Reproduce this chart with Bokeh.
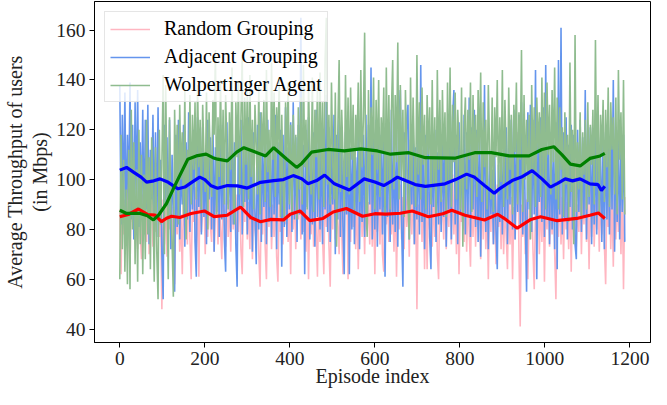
from bokeh.plotting import figure
from bokeh.models import Range1d, FixedTicker, Legend, LegendItem
from bokeh.embed import file_html
from bokeh.resources import INLINE

# ---------------- data ----------------
# raw throughput, one value every 3 episodes (0, 3, 6, ...)
random_raw = [
    88, 62, 96, 78, 92, 74, 99, 80, 64, 95, 83, 97, 76, 90, 72, 100, 79, 68, 94, 81,
    93, 75, 98, 70, 87, 96, 73, 91, 79, 95, 109, 77, 88, 48, 92, 74, 97, 69, 94, 80,
    96, 72, 89, 58, 93, 78, 99, 71, 86, 62, 95, 80, 91, 74, 98, 76, 60, 92, 83, 97,
    73, 94, 61, 100, 79, 88, 96, 70, 93, 77, 99, 82, 75, 95, 71, 90, 98, 74, 92, 80,
    68, 96, 84, 73, 99, 77, 92, 71, 97, 80, 102, 75, 94, 79, 98, 72, 62, 95, 83, 100,
    76, 91, 72, 97, 68, 93, 80, 75, 96, 70, 57, 92, 78, 99, 73, 60, 94, 81, 97, 72,
    90, 77, 95, 69, 59, 92, 79, 98, 74, 91, 82, 96, 75, 93, 62, 99, 80, 94, 72, 100,
    84, 97, 76, 102, 79, 93, 71, 95, 60, 90, 78, 98, 73, 94, 80, 61, 96, 75, 92, 77,
    62, 99, 81, 95, 74, 57, 93, 80, 101, 76, 97, 83, 70, 96, 79, 62, 94, 86, 99, 60,
    92, 75, 100, 81, 96, 72, 94, 64, 89, 98, 77, 93, 70, 97, 80, 91, 74, 99, 73, 95,
    62, 92, 79, 97, 74, 95, 70, 63, 98, 82, 93, 75, 100, 78, 94, 71, 96, 61, 90, 80,
    98, 76, 93, 72, 99, 81, 95, 69, 101, 78, 97, 74, 92, 48, 90, 83, 96, 75, 99, 64,
    93, 64, 95, 80, 98, 73, 94, 77, 100, 70, 60, 96, 82, 92, 76, 99, 72, 95, 81, 97,
    74, 102, 78, 94, 70, 97, 62, 91, 83, 96, 75, 99, 71, 93, 79, 65, 95, 77, 98, 73,
    92, 80, 96, 68, 94, 76, 99, 72, 90, 60, 95, 79, 97, 74, 93, 66, 98, 81, 92, 72,
    95, 70, 91, 78, 64, 97, 74, 93, 60, 89, 76, 94, 119, 71, 41, 90, 77, 95, 70, 92,
    60, 88, 76, 95, 72, 56, 91, 79, 97, 70, 93, 75, 99, 59, 94, 80, 96, 73, 92, 78,
    98, 71, 52, 94, 77, 99, 74, 93, 68, 96, 80, 91, 72, 97, 63, 95, 76, 115, 73, 90,
    79, 97, 70, 94, 82, 98, 75, 93, 64, 96, 77, 100, 73, 92, 80, 97, 71, 95, 78, 99,
    74, 58, 94, 81, 97, 72, 93, 65, 99, 76, 95, 79, 92, 70, 96, 56, 93,
]
adjacent_raw = [
    138, 82, 126, 88, 135, 79, 118, 92, 139, 84, 122, 76, 131, 90, 136, 81, 115, 86, 128, 78,
    124, 88, 130, 74, 112, 92, 126, 80, 119, 77, 129, 84, 108, 70, 52, 122, 90, 117, 78, 124,
    72, 110, 86, 55, 118, 81, 124, 76, 108, 90, 122, 73, 115, 84, 127, 79, 112, 88, 120, 75,
    61, 125, 89, 116, 78, 121, 85, 110, 74, 124, 92, 117, 80, 126, 71, 113, 87, 119, 77, 122,
    84, 118, 76, 63, 123, 90, 111, 79, 126, 82, 115, 74, 57, 120, 88, 124, 78, 112, 91, 117,
    78, 125, 84, 110, 71, 119, 87, 66, 122, 80, 127, 75, 114, 89, 118, 74, 124, 83, 111, 77,
    121, 86, 126, 72, 115, 90, 120, 65, 118, 81, 129, 77, 113, 88, 123, 79, 131, 84, 117, 75,
    122, 86, 165, 78, 114, 62, 120, 89, 125, 76, 110, 82, 119, 73, 128, 85, 116, 80, 122, 74,
    117, 88, 134, 79, 121, 75, 112, 90, 126, 70, 118, 84, 124, 77, 115, 81, 62, 119, 86, 121,
    62, 113, 80, 117, 74, 109, 86, 120, 72, 112, 83, 118, 77, 126, 81, 122, 90, 145, 76, 119,
    80, 124, 73, 115, 88, 118, 78, 121, 61, 110, 85, 123, 75, 128, 82, 114, 79, 120, 73, 125,
    136, 81, 57, 119, 87, 124, 130, 76, 116, 90, 121, 74, 113, 84, 120, 78, 146, 83, 112, 72,
    118, 86, 122, 77, 64, 115, 89, 120, 75, 111, 82, 124, 79, 117, 85, 121, 73, 114, 88, 119,
    76, 125, 136, 82, 118, 74, 123, 87, 112, 80, 126, 78, 119, 85, 133, 77, 121, 88, 128, 81,
    120, 75, 125, 69, 118, 84, 138, 79, 108, 72, 112, 86, 104, 74, 110, 80, 64, 106, 83, 113,
    78, 118, 85, 121, 74, 116, 90, 124, 80, 128, 76, 119, 87, 126, 82, 131, 78, 123, 84, 55,
    127, 88, 130, 79, 124, 86, 144, 60, 118, 91, 125, 83, 129, 77, 146, 85, 112, 74, 119, 80,
    116, 72, 123, 64, 148, 86, 161, 78, 119, 84, 125, 76, 114, 89, 122, 80, 118, 74, 68, 120,
    87, 124, 79, 117, 85, 136, 76, 119, 90, 121, 74, 113, 82, 118, 78, 124, 86, 111, 75, 116,
    72, 119, 84, 114, 78, 121, 88, 140, 71, 116, 83, 120, 76, 112, 87, 118, 75,
]
wolpertinger_raw = [
    60, 118, 72, 108, 63, 96, 58, 112, 56, 128, 80, 115, 66, 104, 59, 120, 74, 110, 62, 102,
    68, 124, 78, 109, 64, 117, 90, 59, 113, 71, 52, 120, 82, 106, 142, 70, 138, 95, 60, 125,
    88, 75, 53, 128, 96, 122, 82, 130, 100, 119, 85, 136, 76, 112, 98, 134, 90, 126, 104, 131,
    92, 138, 105, 124, 88, 130, 110, 95, 135, 80, 127, 108, 93, 132, 118, 152, 86, 125, 101, 140,
    97, 128, 90, 134, 112, 88, 127, 104, 145, 92, 82, 131, 109, 139, 94, 125, 150, 89, 133, 106,
    136, 92, 142, 101, 124, 88, 130, 114, 94, 138, 86, 127, 110, 132, 91, 144, 103, 120, 89, 147,
    108, 135, 93, 129, 112, 140, 85, 126, 98, 83, 131, 107, 139, 90, 122, 86, 126, 101, 118, 84,
    129, 96, 133, 90, 146, 105, 124, 88, 138, 112, 94, 141, 87, 128, 109, 137, 92, 143, 100, 131,
    89, 148, 165, 98, 126, 90, 139, 107, 92, 135, 73, 120, 148, 95, 128, 110, 87, 142, 101, 133,
    94, 137, 108, 130, 88, 126, 112, 139, 91, 144, 105, 124, 159, 89, 77, 136, 98, 129, 110, 141,
    88, 132, 104, 140, 93, 125, 111, 137, 86, 145, 99, 134, 88, 127, 148, 96, 134, 107, 155, 92,
    138, 101, 128, 85, 136, 112, 90, 76, 141, 97, 133, 109, 89, 150, 102, 131, 92, 137, 106, 126,
    88, 134, 110, 129, 90, 140, 97, 125, 86, 144, 104, 132, 91, 136, 108, 127, 85, 139, 99, 145,
    89, 130, 107, 135, 92, 128, 113, 88, 137, 73, 120, 133, 96, 128, 108, 139, 87, 134, 101, 126,
    93, 136, 110, 143, 91, 131, 105, 124, 88, 138, 112, 92, 133, 87, 129, 109, 140, 94, 125, 99,
    144, 89, 132, 110, 92, 137, 104, 126, 86, 130, 111, 139, 90, 127, 108, 152, 87, 134, 100, 124,
    91, 126, 76, 138, 103, 129, 89, 133, 112, 127, 93, 141, 100, 135, 88, 139, 110, 130, 94, 136,
    107, 145, 92, 133, 88, 129, 104, 121, 85, 127, 98, 118, 83, 147, 95, 120, 74, 158, 87, 115,
    96, 127, 84, 119, 102, 124, 88, 131, 93, 122, 106, 128, 90, 156, 99, 134, 87, 126, 110, 132,
    91, 128, 105, 137, 89, 131, 112, 125, 94, 133, 86, 144, 108, 127, 92, 140, 86,
]
raw_step = 3  # episodes between stored samples

# 50-episode running averages
random_avg_ep = [0, 20, 44, 65, 83, 98, 110, 122, 141, 168, 199, 222, 253, 284, 308, 331, 354, 385, 401, 424,
                 447, 478, 502, 533, 571, 600, 626, 660, 688, 726, 760, 781, 812, 858, 889, 908, 935, 967,
                 990, 1029, 1075, 1106, 1126, 1141]
random_avg = [85.1, 86.0, 88.2, 86.0, 85.7, 83.1, 84.5, 85.3, 84.8, 86.4, 87.4, 85.1, 85.7, 89.0, 84.8, 83.1,
              84.0, 83.8, 86.1, 87.4, 83.5, 84.4, 87.0, 88.4, 85.3, 86.3, 86.1, 86.5, 87.4, 85.1, 86.3, 87.7,
              85.7, 83.8, 86.1, 84.0, 80.5, 84.0, 85.1, 83.5, 84.4, 85.7, 86.6, 84.4]
adjacent_avg_ep = [0, 16, 33, 50, 63, 80, 95, 114, 137, 153, 170, 188, 200, 215, 230, 253, 277, 300, 331, 362,
                   385, 408, 428, 443, 463, 482, 505, 540, 575, 600, 621, 641, 653, 672, 695, 719, 765, 790,
                   816, 835, 858, 881, 893, 923, 945, 970, 993, 1013, 1030, 1048, 1065, 1083, 1106, 1125,
                   1133, 1141]
adjacent_avg = [103.8, 104.9, 102.9, 101.0, 99.0, 99.5, 100.3, 98.9, 96.3, 97.0, 99.0, 101.0, 100.0, 97.5,
                96.5, 97.6, 97.5, 96.6, 98.9, 99.6, 100.0, 101.6, 100.3, 98.3, 99.6, 101.8, 98.3, 95.8,
                100.3, 99.0, 97.6, 99.6, 101.0, 99.6, 98.0, 97.3, 98.3, 100.0, 102.2, 100.9, 97.6, 94.5,
                96.3, 99.6, 101.0, 103.6, 100.3, 97.0, 98.5, 100.3, 99.5, 100.3, 98.3, 98.0, 95.6, 97.3]
wolpertinger_avg_ep = [0, 16, 48, 65, 79, 91, 110, 126, 141, 160, 180, 203, 219, 230, 253, 275, 292, 323, 343,
                       362, 393, 416, 428, 451, 490, 528, 567, 606, 637, 680, 719, 788, 835, 874, 916, 963,
                       993, 1021, 1040, 1060, 1083, 1106, 1130, 1141]
wolpertinger_avg = [87.7, 86.4, 86.4, 85.5, 83.8, 85.7, 90.4, 96.3, 101.6, 108.2, 109.5, 110.2, 108.8, 108.2,
                    107.5, 111.0, 112.8, 110.8, 109.5, 112.8, 108.2, 104.9, 106.5, 111.0, 112.1, 111.5, 112.3,
                    111.5, 110.2, 110.8, 108.8, 108.6, 110.8, 110.8, 109.5, 109.5, 112.1, 113.2, 110.0, 106.2,
                    105.5, 108.5, 109.5, 110.5]

series_names = ["Random Grouping", "Adjacent Grouping", "Wolpertinger Agent"]
x_ticks = [0, 200, 400, 600, 800, 1000, 1200]
y_ticks = [40, 60, 80, 100, 120, 140, 160]
x_title = "Episode index"
y_title = "Average Throughput of users\n(in Mbps)"

FONT = "Liberation Serif"

p = figure(width=651, height=389, output_backend="svg", toolbar_location=None,
           x_range=Range1d(-59.5, 1248.5), y_range=Range1d(34.6, 171.5),
           min_border_left=88, min_border_right=1, min_border_top=1, min_border_bottom=43)
p.background_fill_color = "white"
p.border_fill_color = "white"
p.outline_line_color = "black"
p.outline_line_width = 1
p.xgrid.grid_line_color = None
p.ygrid.grid_line_color = None

raw_colors = ["#FFB6C1", "#6495ED", "#8FBC8F"]
avg_colors = ["#FF0000", "#0000FF", "#008000"]
raws = [random_raw, adjacent_raw, wolpertinger_raw]
avgs = [(random_avg_ep, random_avg), (adjacent_avg_ep, adjacent_avg), (wolpertinger_avg_ep, wolpertinger_avg)]

items = []
for name, vals, col in zip(series_names, raws, raw_colors):
    eps = [raw_step * i for i in range(len(vals))]
    r = p.line(eps, vals, line_color=col, line_width=1.6)
    items.append(LegendItem(label=name, renderers=[r]))
for (eps, vals), col in zip(avgs, avg_colors):
    p.line(eps, vals, line_color=col, line_width=3.2)

legend = Legend(items=items, location="top_left")
legend.margin = 10
legend.padding = 5
legend.spacing = 5
legend.glyph_width = 40
legend.glyph_height = 22
legend.label_height = 22
legend.label_standoff = 14
legend.label_text_font = FONT
legend.label_text_font_size = "20px"
legend.label_text_color = "black"
legend.border_line_color = "#cccccc"
legend.border_line_width = 1
legend.background_fill_color = "white"
legend.background_fill_alpha = 0.8
p.add_layout(legend)

for ax in (p.xaxis, p.yaxis):
    ax.axis_line_color = "black"
    ax.axis_line_width = 1
    ax.major_tick_line_color = "black"
    ax.major_tick_line_width = 1
    ax.major_tick_out = 5
    ax.major_tick_in = 0
    ax.minor_tick_line_color = None
    ax.major_label_text_font = FONT
    ax.major_label_text_font_size = "19.5px"
    ax.major_label_text_color = "#222222"
    ax.major_label_text_line_height = 1.0
    ax.axis_label_text_font = FONT
    ax.axis_label_text_font_size = "20px"
    ax.axis_label_text_font_style = "normal"
    ax.axis_label_text_color = "#222222"

p.xaxis.ticker = FixedTicker(ticks=x_ticks)
p.yaxis.ticker = FixedTicker(ticks=y_ticks)
p.xaxis.axis_label = x_title
p.yaxis.axis_label = y_title
p.xaxis.axis_label_text_line_height = 1.0
p.yaxis.axis_label_text_line_height = 1.15
p.xaxis.major_label_standoff = 4
p.xaxis.axis_label_standoff = -3
p.yaxis.major_label_standoff = 4
p.yaxis.axis_label_standoff = 2

open("out.html", "w").write(file_html(p, INLINE))
